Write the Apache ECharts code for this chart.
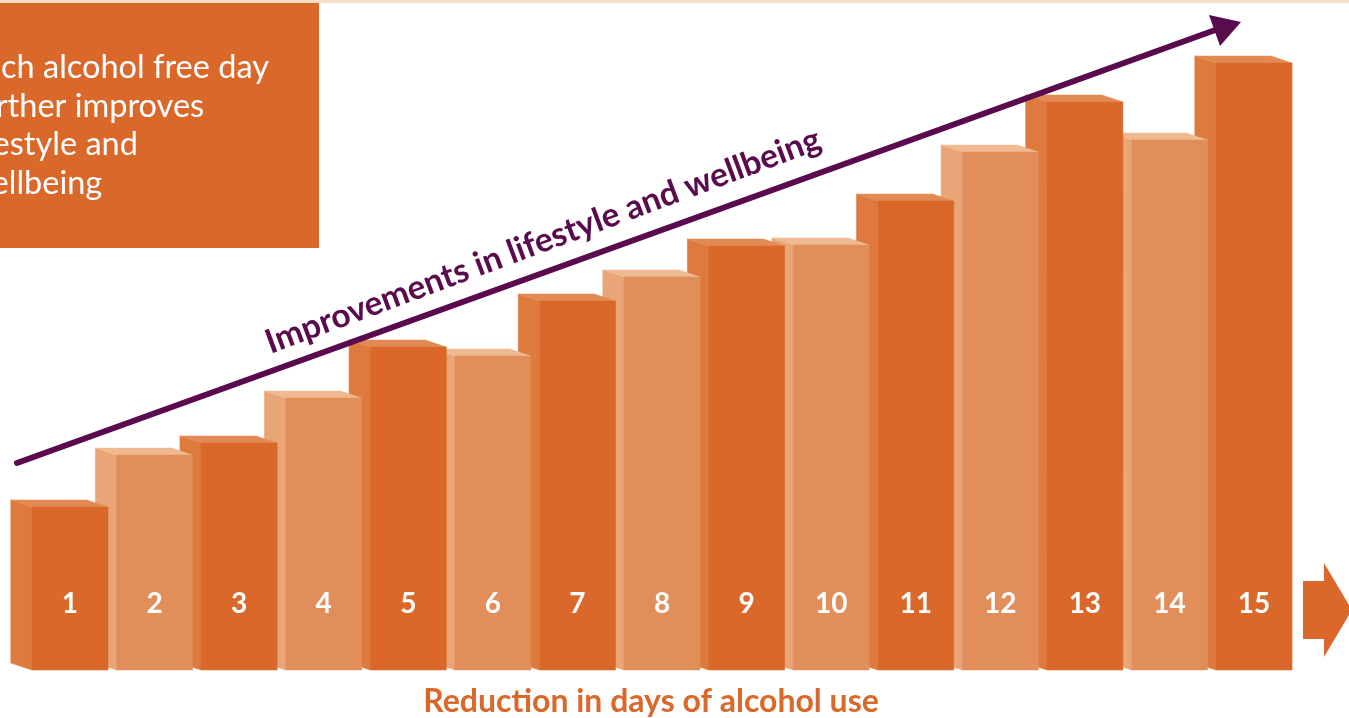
<!DOCTYPE html>
<html>
<head>
<meta charset="utf-8">
<script src="https://cdn.jsdelivr.net/npm/echarts@6/dist/echarts.min.js"></script>
<style>
html,body{margin:0;padding:0;background:#ffffff;}
#chart{width:1349px;height:718px;}
</style>
</head>
<body>
<div id="chart"></div>
<script>
// ---- data ----
const categories = ['1','2','3','4','5','6','7','8','9','10','11','12','13','14','15'];
const values = [163, 215, 227, 272, 323, 314, 369, 393, 424, 425, 469, 518, 568, 530, 607];
const shades = ['dark','light','dark','light','dark','light','dark','light','dark','light','dark','light','dark','light','dark'];
const boxLines = ['Each alcohol free day', 'further improves', 'lifestyle and', 'wellbeing'];
const arrowLabel = 'Improvements in lifestyle and wellbeing';
const xTitle = 'Reduction in days of alcohol use';

// ---- styles ----
const COLORS = {
  dark:  { front: '#D9682A', side: '#DE7A3D', top: '#E28A53' },
  light: { front: '#E28E5A', side: '#E9A577', top: '#EFBA91' }
};
const PURPLE = '#5A0B4D';
const ORANGE = '#D9682A';
const FONT = 'Lato, "Open Sans", sans-serif';

function measure(text, size, weight) {
  const c = document.createElement('canvas').getContext('2d');
  c.font = (weight || 'normal') + ' ' + size + 'px ' + FONT;
  return c.measureText(text).width;
}

const chart = echarts.init(document.getElementById('chart'), null, { renderer: 'canvas' });

function renderItem(params, api) {
  const idx = params.dataIndex;
  const base = api.coord([api.value(0), 0]);
  const top = api.coord([api.value(0), api.value(1)]);
  const bw = api.size([1, 0])[0];
  const fw = bw * 0.9;
  const depth = bw * 0.25;
  const lift = 7;
  const fx0 = top[0] - fw / 2;
  const fx1 = top[0] + fw / 2;
  const sx0 = fx0 - depth;
  const yT = top[1];
  const yB = base[1];
  const col = COLORS[shades[idx]];
  const zb = (20 - idx) * 10;
  return {
    type: 'group',
    children: [
      {
        type: 'polygon', z2: zb + 1,
        shape: { points: [[sx0, yT - lift], [fx0, yT], [fx0, yB], [sx0, yB - lift]] },
        style: { fill: col.side, stroke: col.side, lineWidth: 0.5 }
      },
      {
        type: 'polygon', z2: zb + 2,
        shape: { points: [[sx0, yT - lift], [sx0 + fw, yT - lift], [fx1, yT], [fx0, yT]] },
        style: { fill: col.top, stroke: col.top, lineWidth: 0.5 }
      },
      {
        type: 'rect', z2: zb + 3,
        shape: { x: fx0, y: yT, width: fw, height: yB - yT },
        style: { fill: col.front, stroke: col.front, lineWidth: 0.5 }
      },
      {
        type: 'text', z2: zb + 4,
        style: {
          text: categories[idx], x: top[0], y: yB - 66,
          fill: '#ffffff', fontSize: 28, fontWeight: 'bold', fontFamily: FONT,
          align: 'center', verticalAlign: 'middle'
        }
      }
    ]
  };
}

const boxFont = 32.5;
const boxOffset = -measure('Ea', boxFont, 'normal') + 1;
const boxGraphics = boxLines.map((t, i) => ({
  type: 'text', z: 20,
  x: boxOffset, y: 84 + i * 38.7,
  style: { text: t, fill: '#ffffff', fontSize: boxFont, fontFamily: FONT, align: 'left', verticalAlign: 'bottom' }
}));

chart.setOption({
  animation: false,
  backgroundColor: '#ffffff',
  grid: { left: 27.7, right: 52.7, top: 0, bottom: 48 },
  xAxis: { type: 'category', data: categories, show: false, boundaryGap: true },
  yAxis: { type: 'value', min: 0, max: 670, show: false },
  series: [{
    type: 'custom',
    renderItem: renderItem,
    data: values.map((v, i) => [i, v]),
    encode: { x: 0, y: 1 },
    z: 2
  }],
  graphic: [
    { type: 'rect', z: 10, shape: { x: 0, y: 0, width: 1349, height: 3 }, style: { fill: '#F6DFC8' } },
    { type: 'rect', z: 10, shape: { x: 0, y: 3, width: 319, height: 245 }, style: { fill: ORANGE } },
    ...boxGraphics,
    { type: 'polyline', z: 30, shape: { points: [[17, 463], [1218, 29]] },
      style: { stroke: PURPLE, lineWidth: 6, lineCap: 'round', fill: null } },
    { type: 'polygon', z: 30, shape: { points: [[1209, 15], [1241, 22], [1220, 46]] },
      style: { fill: PURPLE } },
    { type: 'text', z: 30, x: 543, y: 241, rotation: 20.4 * Math.PI / 180,
      style: { text: arrowLabel, fill: PURPLE, fontSize: 33.5, fontWeight: 'bold', fontFamily: FONT,
        align: 'center', verticalAlign: 'middle' } },
    { type: 'text', z: 30, x: 651, y: 702,
      style: { text: xTitle, fill: ORANGE, fontSize: 32, fontWeight: 'bold', fontFamily: FONT,
        align: 'center', verticalAlign: 'middle' } },
    { type: 'polygon', z: 10,
      shape: { points: [[1303, 581], [1324, 581], [1324, 563], [1352, 610], [1324, 657], [1324, 639], [1303, 639]] },
      style: { fill: ORANGE } }
  ]
});
</script>
</body>
</html>
